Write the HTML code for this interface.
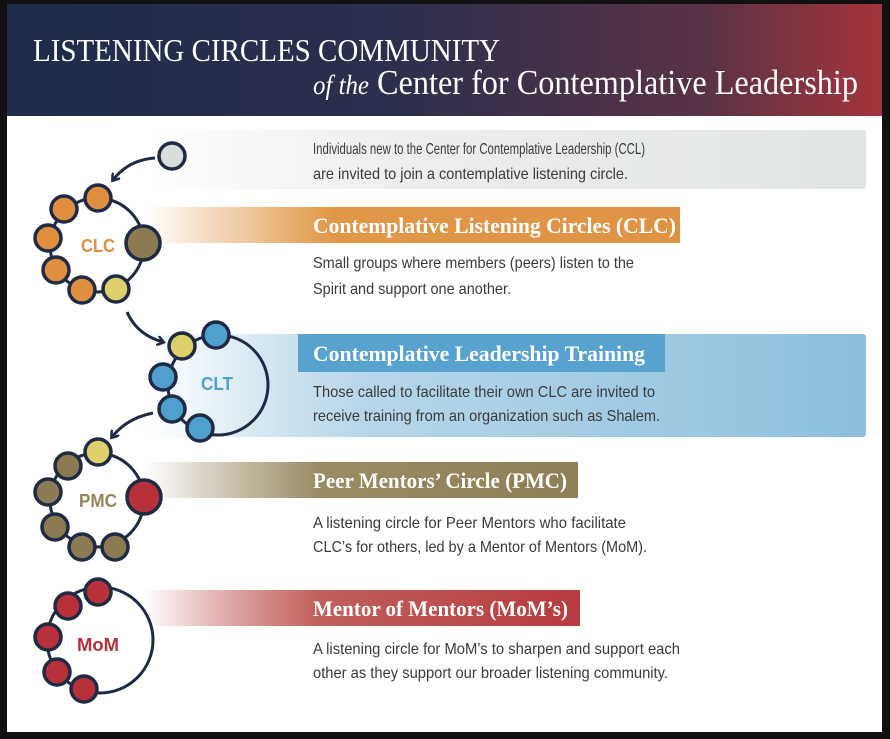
<!DOCTYPE html>
<html><head><meta charset="utf-8"><style>
html,body{margin:0;padding:0;background:#fff;}
svg{display:block;}
.b{font-family:"Liberation Sans",sans-serif;font-size:16px;fill:#3a3a3a;}
.t{font-family:"Liberation Serif",serif;font-size:22px;font-weight:bold;fill:#fff;}
.l{font-family:"Liberation Sans",sans-serif;font-weight:bold;font-size:18px;text-anchor:middle;}
</style></head><body>
<svg width="890" height="739" viewBox="0 0 890 739" xmlns="http://www.w3.org/2000/svg">
<defs>
<linearGradient id="hd" x1="0" x2="1" y1="0" y2="0"><stop offset="0" stop-color="#1f2b4b"/><stop offset="0.45" stop-color="#2d2f4d"/><stop offset="0.8" stop-color="#5a3245"/><stop offset="1" stop-color="#a5343c"/></linearGradient>
<linearGradient id="gr" x1="0" x2="1"><stop offset="0" stop-color="#fff"/><stop offset="0.3" stop-color="#eef0ee"/><stop offset="1" stop-color="#e0e4e2"/></linearGradient>
<linearGradient id="or" x1="0" x2="1"><stop offset="0" stop-color="#e09848" stop-opacity="0"/><stop offset="0.35" stop-color="#e09848"/><stop offset="1" stop-color="#e09244"/></linearGradient>
<linearGradient id="bl" x1="0" x2="1"><stop offset="0" stop-color="#a8cde3" stop-opacity="0"/><stop offset="0.3" stop-color="#b7d6e8"/><stop offset="1" stop-color="#8cc0df"/></linearGradient>
<linearGradient id="ol" x1="0" x2="1"><stop offset="0" stop-color="#8e7f57" stop-opacity="0"/><stop offset="0.4" stop-color="#9a8b62"/><stop offset="1" stop-color="#8e7f57"/></linearGradient>
<linearGradient id="rd" x1="0" x2="1"><stop offset="0" stop-color="#b73a3f" stop-opacity="0"/><stop offset="0.4" stop-color="#c0605a"/><stop offset="1" stop-color="#b73a3f"/></linearGradient>
<marker id="ar" markerWidth="10" markerHeight="10" refX="6" refY="5" orient="auto" markerUnits="userSpaceOnUse"><path d="M0,0 L7,5 L0,10" fill="none" stroke="#1f2a44" stroke-width="2.5"/></marker>
</defs>
<rect width="890" height="739" fill="#111"/>
<rect x="7" y="4" width="875" height="728" fill="#fff"/>
<rect x="7" y="4" width="875" height="112" fill="url(#hd)"/>
<text x="33" y="61" font-family="Liberation Serif,serif" font-size="32" fill="#fff" textLength="467" lengthAdjust="spacingAndGlyphs">LISTENING CIRCLES COMMUNITY</text>
<text x="313" y="94" font-family="Liberation Serif,serif" font-size="35" fill="#fff" textLength="545" lengthAdjust="spacingAndGlyphs"><tspan font-style="italic" font-size="27">of the</tspan> Center for Contemplative Leadership</text>

<rect x="150" y="130" width="716" height="59" fill="url(#gr)" rx="3"/>
<rect x="145" y="207" width="535" height="36" fill="url(#or)"/>
<rect x="150" y="334" width="716" height="103" fill="url(#bl)" rx="3"/>
<rect x="298" y="334" width="367" height="38" fill="#57a2cf"/>
<rect x="145" y="462" width="433" height="36" fill="url(#ol)"/>
<rect x="145" y="590" width="435" height="36" fill="url(#rd)"/>

<text class="b" x="313" y="154" textLength="332" lengthAdjust="spacingAndGlyphs">Individuals new to the Center for Contemplative Leadership (CCL)</text>
<text class="b" x="313" y="179" textLength="315" lengthAdjust="spacingAndGlyphs">are invited to join a contemplative listening circle.</text>
<text class="t" x="313" y="233" textLength="363" lengthAdjust="spacingAndGlyphs">Contemplative Listening Circles (CLC)</text>
<text class="b" x="313" y="268" textLength="321" lengthAdjust="spacingAndGlyphs">Small groups where members (peers) listen to the</text>
<text class="b" x="313" y="294" textLength="198" lengthAdjust="spacingAndGlyphs">Spirit and support one another.</text>
<text class="t" x="313" y="361" textLength="332" lengthAdjust="spacingAndGlyphs">Contemplative Leadership Training</text>
<text class="b" x="313" y="397" textLength="342" lengthAdjust="spacingAndGlyphs">Those called to facilitate their own CLC are invited to</text>
<text class="b" x="313" y="421" textLength="347" lengthAdjust="spacingAndGlyphs">receive training from an organization such as Shalem.</text>
<text class="t" x="313" y="488" textLength="254" lengthAdjust="spacingAndGlyphs">Peer Mentors’ Circle (PMC)</text>
<text class="b" x="313" y="528" textLength="313" lengthAdjust="spacingAndGlyphs">A listening circle for Peer Mentors who facilitate</text>
<text class="b" x="313" y="552" textLength="334" lengthAdjust="spacingAndGlyphs">CLC’s for others, led by a Mentor of Mentors (MoM).</text>
<text class="t" x="313" y="616" textLength="255" lengthAdjust="spacingAndGlyphs">Mentor of Mentors (MoM’s)</text>
<text class="b" x="313" y="654" textLength="367" lengthAdjust="spacingAndGlyphs">A listening circle for MoM’s to sharpen and support each</text>
<text class="b" x="313" y="678" textLength="355" lengthAdjust="spacingAndGlyphs">other as they support our broader listening community.</text>

<g fill="none" stroke="#1f2a44" stroke-width="3">
<circle cx="97" cy="245" r="47"/>
<circle cx="218" cy="385" r="50"/>
<circle cx="97" cy="500" r="47"/>
<circle cx="100" cy="640" r="53"/>
<path d="M155,158 Q128,160 113,180" marker-end="url(#ar)"/>
<path d="M127,312 Q137,335 163,342" marker-end="url(#ar)"/>
<path d="M153,413 Q127,418 112,437" marker-end="url(#ar)"/>
</g>
<g stroke="#1f2a44" stroke-width="3.5">
<circle cx="172" cy="156" r="13" fill="#d9dedc"/>
<circle cx="98" cy="198" r="13" fill="#e08f3e"/>
<circle cx="64" cy="209" r="13" fill="#e08f3e"/>
<circle cx="48" cy="238" r="13" fill="#e08f3e"/>
<circle cx="56" cy="270" r="13" fill="#e08f3e"/>
<circle cx="82" cy="290" r="13" fill="#e08f3e"/>
<circle cx="116" cy="289" r="13" fill="#ddd06a"/>
<circle cx="143" cy="243" r="17" fill="#8b7a52"/>

<circle cx="216" cy="335" r="13" fill="#4f9fcf"/>
<circle cx="182" cy="346" r="13" fill="#ddd06a"/>
<circle cx="163" cy="377" r="13" fill="#4f9fcf"/>
<circle cx="172" cy="409" r="13" fill="#4f9fcf"/>
<circle cx="200" cy="428" r="13" fill="#4f9fcf"/>

<circle cx="98" cy="452" r="13" fill="#ddd06a"/>
<circle cx="68" cy="466" r="13" fill="#8b7a52"/>
<circle cx="48" cy="492" r="13" fill="#8b7a52"/>
<circle cx="55" cy="527" r="13" fill="#8b7a52"/>
<circle cx="82" cy="547" r="13" fill="#8b7a52"/>
<circle cx="115" cy="547" r="13" fill="#8b7a52"/>
<circle cx="144" cy="497" r="17" fill="#b8303a"/>

<circle cx="98" cy="592" r="13" fill="#b8303a"/>
<circle cx="68" cy="606" r="13" fill="#b8303a"/>
<circle cx="48" cy="637" r="13" fill="#b8303a"/>
<circle cx="57" cy="672" r="13" fill="#b8303a"/>
<circle cx="84" cy="689" r="13" fill="#b8303a"/>
</g>
<text class="l" x="98" y="252" fill="#e08f3e" textLength="34" lengthAdjust="spacingAndGlyphs">CLC</text>
<text class="l" x="217" y="390" fill="#4f9fcf" textLength="32" lengthAdjust="spacingAndGlyphs">CLT</text>
<text class="l" x="98" y="507" fill="#948558" textLength="38" lengthAdjust="spacingAndGlyphs">PMC</text>
<text class="l" x="98" y="651" fill="#b8303a" textLength="42" lengthAdjust="spacingAndGlyphs">MoM</text>
</svg>
</body></html>
